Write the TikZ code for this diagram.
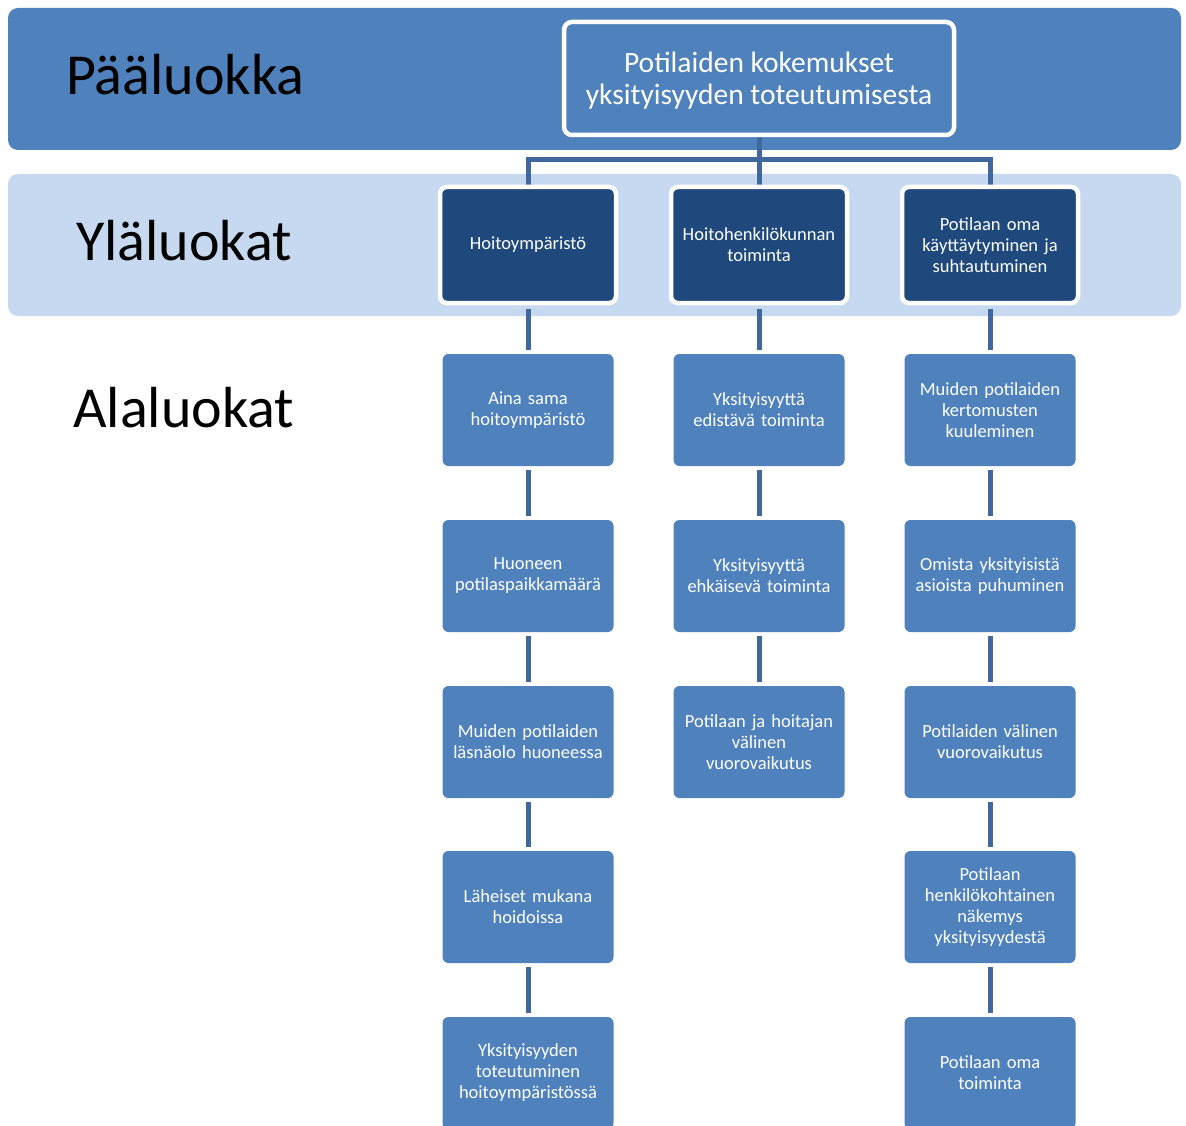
\documentclass[tikz,border=0pt]{standalone}
\usepackage{fontspec}
\setmainfont{Carlito}
\definecolor{midblue}{HTML}{4F81BD}
\definecolor{darkblue}{HTML}{1F497D}
\definecolor{lightband}{HTML}{C6D9F1}
\definecolor{linkblue}{HTML}{40689C}
\begin{document}
\begin{tikzpicture}[x=1pt,y=-1pt,
  band/.style={fill=#1,rounded corners=10pt,draw=none},
  bandlabel/.style={anchor=base west,font=\fontsize{58}{62}\selectfont,text=black,inner sep=0pt},
  rootbox/.style={draw=white,line width=4.5pt,fill=midblue,rounded corners=8pt,minimum width=390pt,minimum height=113pt},
  roottext/.style={text=white,align=center,font=\fontsize{29.5}{32}\selectfont},
  topbox/.style={draw=white,line width=4.5pt,fill=darkblue,rounded corners=7pt,minimum width=176pt,minimum height=116pt,inner xsep=2pt,text width=172pt,text=white,align=center,font=\fontsize{18.5}{21}\selectfont},
  subbox/.style={fill=midblue,rounded corners=6pt,minimum width=171pt,minimum height=112pt,inner xsep=1pt,text width=169pt,text=white,align=center,font=\fontsize{18.5}{21}\selectfont},
  link/.style={draw=linkblue,line width=5pt},
  vlink/.style={link,shorten <=4pt,shorten >=4pt}]
\clip (0,0) rectangle (1186,1126);
\fill[white] (0,0) rectangle (1186,1126);
\fill[band=midblue] (8,8) rectangle (1181,150);
\fill[band=lightband] (8,174) rectangle (1181,316);
\node[bandlabel] (lp) at (66,95) {Pääluokka};
\node[bandlabel] (ly) at (76,261) {Yläluokat};
\node[bandlabel] (la) at (73,427) {Alaluokat};
% connectors first
\coordinate (bus) at (759,160);
\coordinate (rootbot) at (759,135);
\coordinate (h1top) at (528,186);
\coordinate (h2top) at (759,186);
\coordinate (h3top) at (990,186);
\draw[link] (rootbot) -- (bus);
\draw[link,line join=miter] (h1top) -- (h1top |- bus) -- (h3top |- bus) -- (h3top);
\draw[link] (bus) -- (h2top);
\node[rootbox] (root) at (759,78.5) {};
\node[roottext] (rootlabel) at (759,81) {Potilaiden kokemukset\\yksityisyyden toteutumisesta};
\node[topbox] (h1) at (528,245) {Hoitoympäristö};
\node[topbox] (h2) at (759,245) {Hoitohenkilökunnan\\toiminta};
\node[topbox] (h3) at (990,245) {Potilaan oma\\käyttäytyminen ja\\suhtautuminen};
% column 1
\node[subbox] (a1) at (528,410) {Aina sama\\hoitoympäristö};
\node[subbox] (a2) at (528,576) {Huoneen\\potilaspaikkamäärä};
\node[subbox] (a3) at (528,742) {Muiden potilaiden\\läsnäolo huoneessa};
\node[subbox] (a4) at (528,907) {Läheiset mukana\\hoidoissa};
\node[subbox] (a5) at (528,1073) {Yksityisyyden\\toteutuminen\\hoitoympäristössä};
% column 2
\node[subbox] (b1) at (759,410) {Yksityisyyttä\\edistävä toiminta};
\node[subbox] (b2) at (759,576) {Yksityisyyttä\\ehkäisevä toiminta};
\node[subbox] (b3) at (759,742) {Potilaan ja hoitajan\\välinen\\vuorovaikutus};
% column 3
\node[subbox] (c1) at (990,410) {Muiden potilaiden\\kertomusten\\kuuleminen};
\node[subbox] (c2) at (990,576) {Omista yksityisistä\\asioista puhuminen};
\node[subbox] (c3) at (990,742) {Potilaiden välinen\\vuorovaikutus};
\node[subbox] (c4) at (990,907) {Potilaan\\henkilökohtainen\\näkemys\\yksityisyydestä};
\node[subbox] (c5) at (990,1073) {Potilaan oma\\toiminta};
% vertical links
\draw[vlink] (h1.south) -- (a1.north);
\draw[vlink] (a1.south) -- (a2.north);
\draw[vlink] (a2.south) -- (a3.north);
\draw[vlink] (a3.south) -- (a4.north);
\draw[vlink] (a4.south) -- (a5.north);
\draw[vlink] (h2.south) -- (b1.north);
\draw[vlink] (b1.south) -- (b2.north);
\draw[vlink] (b2.south) -- (b3.north);
\draw[vlink] (h3.south) -- (c1.north);
\draw[vlink] (c1.south) -- (c2.north);
\draw[vlink] (c2.south) -- (c3.north);
\draw[vlink] (c3.south) -- (c4.north);
\draw[vlink] (c4.south) -- (c5.north);
\end{tikzpicture}
\end{document}
